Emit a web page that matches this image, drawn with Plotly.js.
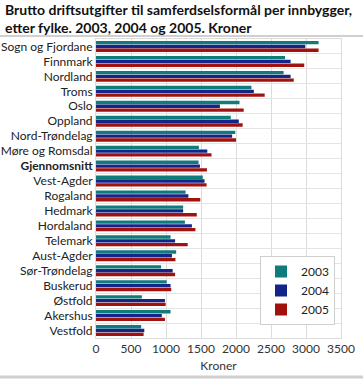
<!DOCTYPE html>
<html><head><meta charset="utf-8">
<script src="https://cdn.plot.ly/plotly-3.0.1.min.js"></script>
<style>html,body{margin:0;padding:0;background:#fff}#c{width:363px;height:379px}</style>
</head><body><div id="c"></div>
<script>
const categories = ["Sogn og Fjordane","Finnmark","Nordland","Troms","Oslo","Oppland","Nord-Trøndelag","Møre og Romsdal","Gjennomsnitt","Vest-Agder","Rogaland","Hedmark","Hordaland","Telemark","Aust-Agder","Sør-Trøndelag","Buskerud","Østfold","Akershus","Vestfold"];
const v2003 = [3180,2700,2680,2220,2050,1925,1990,1470,1465,1525,1280,1245,1270,1065,1145,930,1010,655,1065,645];
const v2004 = [2990,2780,2780,2255,1770,2040,1945,1590,1485,1550,1320,1245,1370,1130,1085,1095,1065,985,940,690];
const v2005 = [3180,2975,2825,2410,2110,2095,2000,1650,1585,1580,1490,1440,1420,1310,1135,1130,1075,995,985,680];
const seriesNames = ["2003","2004","2005"];
const colors = ["#0f7b7b","#14258a","#a1120e"];
const titleText = "<b>Brutto driftsutgifter til samferdselsformål per innbygger,<br>etter fylke. 2003, 2004 og 2005. Kroner</b>";
const tickLabels = categories.map(c => c === "Gjennomsnitt" ? "<b>" + c + "</b>" : c);

const data = [v2003, v2004, v2005].map((v, i) => ({
  type: "bar", orientation: "h", x: v, y: categories, name: seriesNames[i],
  marker: {color: colors[i], line: {width: 0}}, hoverinfo: "x"
}));

const pw = 245, ph = 299;
const FONT = "Lato, sans-serif";
const layout = {
  width: 363, height: 379,
  margin: {l: 96, r: 22, t: 39, b: 41},
  paper_bgcolor: "#fff", plot_bgcolor: "#fff",
  font: {family: FONT, size: 12, color: "#222"},
  barmode: "group", bargap: 0.24, bargroupgap: 0.12,
  xaxis: {
    range: [0, 3500], dtick: 500, tick0: 0, showgrid: true, gridcolor: "#dcdcdc", gridwidth: 1,
    zeroline: false, showline: true, mirror: true, linecolor: "#dcdcdc", linewidth: 1,
    tickfont: {size: 12, color: "#333"}, ticks: "",
    title: {text: "Kroner", font: {size: 12, color: "#333"}, standoff: 6}
  },
  yaxis: {
    type: "category", autorange: "reversed", tickson: "boundaries",
    tickvals: categories, ticktext: tickLabels,
    showgrid: true, gridcolor: "#e4e4e4", gridwidth: 1, showline: true, mirror: true,
    linecolor: "#dcdcdc", ticks: "", ticklen: 0, tickfont: {size: 12, color: "#222"}
  },
  legend: {
    x: (260 - 96) / pw, y: (338 - 256) / ph, xanchor: "left", yanchor: "top",
    bordercolor: "#cfcfcf", borderwidth: 1, bgcolor: "#fff",
    font: {size: 12, color: "#222"}, tracegroupgap: 0, itemwidth: 30
  },
  annotations: [{
    text: titleText, xref: "paper", yref: "paper", x: -93 / pw, y: (338 + 1) / ph,
    xanchor: "left", yanchor: "top", align: "left", showarrow: false,
    font: {family: FONT, size: 14, color: "#111"}
  }],
  shapes: [
    {type: "line", xref: "paper", yref: "paper", x0: -96/pw, x1: 267/pw, y0: (299+3)/ph, y1: (299+3)/ph, line: {color: "#d0d0d0", width: 2}},
    {type: "line", xref: "paper", yref: "paper", x0: -96/pw, x1: 267/pw, y0: -39/ph, y1: -39/ph, line: {color: "#d0d0d0", width: 3}}
  ],
  showlegend: true
};
Plotly.newPlot("c", data, layout, {displayModeBar: false, staticPlot: true});
</script></body></html>
